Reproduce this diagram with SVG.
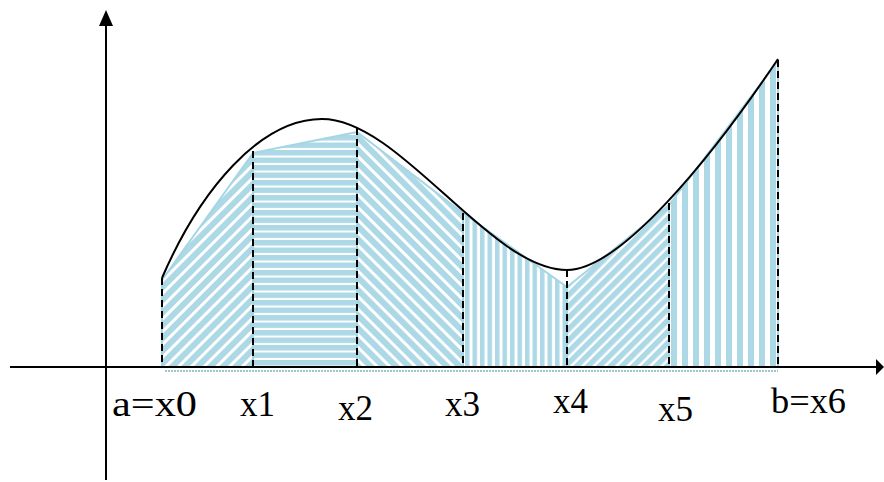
<svg xmlns="http://www.w3.org/2000/svg" width="884" height="482" viewBox="0 0 884 482">
<style>
.axis{stroke:#000;stroke-width:2;fill:none}
.head{fill:#000}
.curve{stroke:#000;stroke-width:2;fill:none}
.dash{stroke:#000;stroke-width:2;stroke-dasharray:7 4;fill:none}
.trap{stroke:#a6d6e4;stroke-width:2;stroke-linejoin:round}
</style>
<defs>
<pattern id="pDiagA" patternUnits="userSpaceOnUse" width="9" height="9" patternTransform="rotate(45)"><rect width="9" height="9" fill="#fff"/><rect width="6" height="9" fill="#add8e6"/></pattern>
<pattern id="pHoriz" patternUnits="userSpaceOnUse" width="8" height="7.5"><rect width="8" height="7.5" fill="#fff"/><rect width="8" height="5.5" fill="#add8e6"/></pattern>
<pattern id="pDiagB" patternUnits="userSpaceOnUse" width="9" height="9" patternTransform="rotate(-45)"><rect width="9" height="9" fill="#fff"/><rect width="6" height="9" fill="#add8e6"/></pattern>
<pattern id="pVert" patternUnits="userSpaceOnUse" width="7.5" height="8"><rect width="7.5" height="8" fill="#fff"/><rect width="4.5" height="8" fill="#add8e6"/></pattern>
<pattern id="pDiagC" patternUnits="userSpaceOnUse" width="8" height="8" patternTransform="rotate(45)"><rect width="8" height="8" fill="#fff"/><rect width="5.5" height="8" fill="#add8e6"/></pattern>
<pattern id="pVert2" patternUnits="userSpaceOnUse" width="11" height="8"><rect width="11" height="8" fill="#fff"/><rect width="6" height="8" fill="#add8e6"/></pattern>
</defs>
<g id="trapezoids">
<polygon class="trap" fill="url(#pDiagA)" points="162,280 253,153 253,367 162,367"/>
<polygon class="trap" fill="url(#pHoriz)" points="253,153 357,132 357,367 253,367"/>
<polygon class="trap" fill="url(#pDiagB)" points="357,132 463,213 463,367 357,367"/>
<polygon class="trap" fill="url(#pVert)" points="463,213 567,287 567,367 463,367"/>
<polygon class="trap" fill="url(#pDiagC)" points="567,287 669,205 669,367 567,367"/>
<polygon class="trap" fill="url(#pVert2)" points="669,205 778,61 778,367 669,367"/>
<line x1="165" y1="371" x2="778" y2="371" stroke="#9cc6d0" stroke-width="2" stroke-dasharray="2 1"/>
</g>
<g id="axes">
<line class="axis" x1="106" y1="480" x2="106" y2="24"/>
<polygon class="head" points="106,10 99,26 113,26"/>
<line class="axis" x1="10" y1="367" x2="878" y2="367"/>
<polygon class="head" points="884,367 876,359 876,375"/>
</g>
<g id="connectors">
<line class="dash" x1="162" y1="278" x2="162" y2="367"/>
<line class="dash" x1="253" y1="151" x2="253" y2="367"/>
<line class="dash" x1="357" y1="128" x2="357" y2="367"/>
<line class="dash" x1="463" y1="213" x2="463" y2="367"/>
<line class="dash" x1="567" y1="270" x2="567" y2="367"/>
<line class="dash" x1="669" y1="203" x2="669" y2="367"/>
<line class="dash" x1="778" y1="60" x2="778" y2="367"/>
</g>
<g id="curve">
<path class="curve" d="M162,278 C200,190 260,119 322,119 C400,119 490,270 567,270 C620,270 710,160 778,59"/>
</g>
<g id="labels" font-family="Liberation Serif, Times New Roman, serif" font-size="35" fill="#000">
<text x="112" y="416" textLength="85" lengthAdjust="spacingAndGlyphs">a=x0</text>
<text x="240" y="416" textLength="35" lengthAdjust="spacingAndGlyphs">x1</text>
<text x="338" y="420" textLength="35" lengthAdjust="spacingAndGlyphs">x2</text>
<text x="445" y="416" textLength="35" lengthAdjust="spacingAndGlyphs">x3</text>
<text x="553" y="413" textLength="35" lengthAdjust="spacingAndGlyphs">x4</text>
<text x="658" y="421" textLength="35" lengthAdjust="spacingAndGlyphs">x5</text>
<text x="771" y="413" textLength="75" lengthAdjust="spacingAndGlyphs">b=x6</text>
</g>
</svg>
